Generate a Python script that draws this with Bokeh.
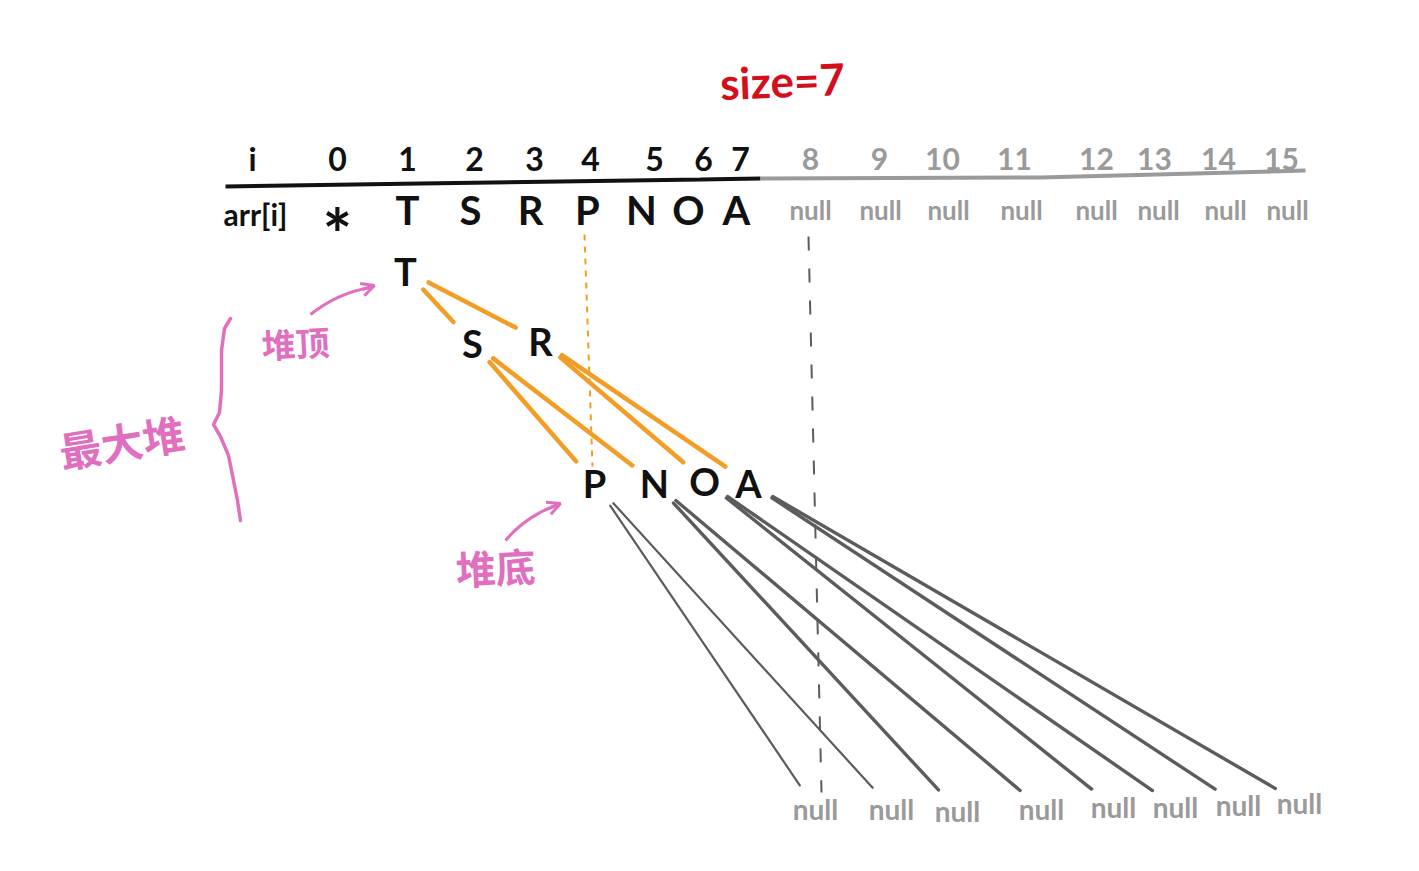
import numpy as np
from bokeh.plotting import figure
from bokeh.models import Range1d, Arrow, OpenHead
from bokeh.core.properties import value
from bokeh.embed import file_html
from bokeh.resources import INLINE

# ---------------- data ----------------
heap_size = 7
index_labels = [str(i) for i in range(16)]
arr_values = ["*", "T", "S", "R", "P", "N", "O", "A"] + ["null"] * 8
heap_nodes = ["T", "S", "R", "P", "N", "O", "A"]          # indices 1..7
leaf_labels = ["null"] * 8                                   # indices 8..15
size_label = f"size={heap_size}"
label_max_heap = "最大堆"
label_top = "堆顶"
label_bottom = "堆底"

# ---------------- layout (pixel positions) ----------------
idx_x = [337, 407, 474, 534, 590, 654, 703, 740, 810, 879, 942, 1014, 1096, 1154, 1218, 1281]
idx_y = 158
arr_x = [337, 407, 470, 530, 587, 641, 688, 736, 810, 880, 948, 1021, 1096, 1158, 1225, 1287]
arr_y = 209
node_x = [405, 472, 540, 594, 654, 704, 748]
node_y = [270, 342, 340, 482, 482, 480, 482]
leaf_x = [815, 891, 957, 1041, 1113, 1175, 1238, 1299]
leaf_y = [808, 808, 810, 808, 806, 806, 804, 802]

BLACK = "#111111"
GRAY_T = "#9a9a9a"
GRAY_L = "#5c5c5c"
ORANGE = "#f29d25"
PINK = "#e070bf"
RED = "#d40f1c"
FONT = value("Lato")
CJK = value("Noto Sans CJK SC")

p = figure(width=1403, height=855, output_backend="svg", toolbar_location=None,
           x_range=Range1d(0, 1403), y_range=Range1d(855, 0), min_border=0)
p.axis.visible = False
p.grid.visible = False
p.outline_line_color = None
p.background_fill_color = "white"
p.border_fill_color = "white"

# size=7
p.text(x=[782], y=[80], text=[size_label], text_color=RED, text_font=FONT, text_font_style="bold",
       text_font_size="44px", text_align="center", text_baseline="middle", angle=0.04)

# index row
n_used = heap_size + 1
p.text(x=[252], y=[idx_y], text=["i"], text_color=BLACK, text_font=FONT, text_font_style="bold",
       text_font_size="32px", text_align="center", text_baseline="middle")
p.text(x=idx_x[:n_used], y=[idx_y] * n_used, text=index_labels[:n_used], text_color=BLACK,
       text_font=FONT, text_font_style="bold", text_font_size="32px",
       text_align="center", text_baseline="middle")
p.text(x=idx_x[n_used:], y=[idx_y] * (16 - n_used), text=index_labels[n_used:], text_color=GRAY_T,
       text_font=FONT, text_font_style="bold", text_font_size="30px",
       text_align="center", text_baseline="middle")

# separator line
p.line(x=[225, 420, 700, 760], y=[186, 183, 179, 178], line_color=BLACK, line_width=4)
p.line(x=[760, 1040, 1305], y=[178, 177, 170], line_color=GRAY_T, line_width=4)

# array row
p.text(x=[255], y=[arr_y + 4], text=["arr[i]"], text_color=BLACK, text_font=FONT,
       text_font_style="bold", text_font_size="30px", text_align="center", text_baseline="middle")
p.text(x=arr_x[:1], y=[arr_y + 24], text=arr_values[:1], text_color=BLACK,
       text_font=FONT, text_font_style="bold", text_font_size="70px",
       text_align="center", text_baseline="middle")
p.text(x=arr_x[1:n_used], y=[arr_y] * (n_used - 1), text=arr_values[1:n_used], text_color=BLACK,
       text_font=FONT, text_font_style="bold", text_font_size="40px",
       text_align="center", text_baseline="middle")
p.text(x=arr_x[n_used:], y=[arr_y] * (16 - n_used), text=arr_values[n_used:], text_color=GRAY_T,
       text_font=FONT, text_font_style="bold", text_font_size="26px",
       text_align="center", text_baseline="middle")

# dashed guides
p.line(x=[arr_x[4] - 3, node_x[3] - 2], y=[234, 466], line_color=ORANGE, line_width=2, line_dash="6 6")
p.line(x=[arr_x[8] - 2, leaf_x[0] + 6], y=[236, 792], line_color=GRAY_L, line_width=2, line_dash="14 18")

# tree positions by heap index
pos = {}
for k in range(7):
    pos[k + 1] = (node_x[k], node_y[k])
for k in range(8):
    pos[k + 8] = (leaf_x[k], leaf_y[k])

def edge(a, b, r1, r2):
    (x0, y0), (x1, y1) = pos[a], pos[b]
    d = np.array([x1 - x0, y1 - y0], dtype=float)
    u = d / np.hypot(*d)
    return [x0 + u[0] * r1, x1 - u[0] * r2], [y0 + u[1] * r1, y1 - u[1] * r2]

ox, oy, gx, gy, gw = [], [], [], [], []
for i in range(1, heap_size + 1):
    for c in (2 * i, 2 * i + 1):
        if i <= 3:
            xs, ys = edge(i, c, 26, 28)
            ox.append(xs); oy.append(ys)
        else:
            xs, ys = edge(i, c, 28, 28)
            gx.append(xs); gy.append(ys)
            gw.append(2.2 if i == 4 else 3.4)
p.multi_line(xs=ox, ys=oy, line_color=ORANGE, line_width=4.5, line_cap="round")
p.multi_line(xs=gx, ys=gy, line_color=GRAY_L, line_width=gw, line_cap="round")

# tree nodes
p.text(x=node_x, y=node_y, text=heap_nodes, text_color=BLACK, text_font=FONT,
       text_font_style="bold", text_font_size="38px", text_align="center", text_baseline="middle")
p.text(x=leaf_x, y=leaf_y, text=leaf_labels, text_color=GRAY_T, text_font=FONT,
       text_font_style="bold", text_font_size="28px", text_align="center", text_baseline="middle")

# pink annotations
p.line(x=[230, 224, 221, 221, 219, 213, 220, 228, 233, 237, 240],
       y=[318, 328, 350, 390, 412, 424, 436, 455, 480, 500, 520],
       line_color=PINK, line_width=3.5, line_cap="round", line_join="round")
p.text(x=[121], y=[440], text=[label_max_heap], text_color=PINK, text_font=CJK, text_font_style="bold",
       text_font_size="42px", text_align="center", text_baseline="middle", angle=0.16)
p.text(x=[295], y=[342], text=[label_top], text_color=PINK, text_font=CJK, text_font_style="bold",
       text_font_size="34px", text_align="center", text_baseline="middle", angle=0.05)
p.text(x=[495], y=[566], text=[label_bottom], text_color=PINK, text_font=CJK, text_font_style="bold",
       text_font_size="40px", text_align="center", text_baseline="middle", angle=0.05)

p.bezier(x0=[310], y0=[314], x1=[370], y1=[287], cx0=[330], cy0=[298], cx1=[352], cy1=[290],
         line_color=PINK, line_width=3)
p.add_layout(Arrow(end=OpenHead(size=13, line_color=PINK, line_width=3), x_start=362, y_start=289,
                   x_end=374, y_end=285, line_color=PINK, line_width=3))
p.bezier(x0=[505], y0=[540], x1=[556], y1=[505], cx0=[520], cy0=[522], cx1=[540], cy1=[510],
         line_color=PINK, line_width=3)
p.add_layout(Arrow(end=OpenHead(size=13, line_color=PINK, line_width=3), x_start=550, y_start=507,
                   x_end=560, y_end=503, line_color=PINK, line_width=3))

open("out.html", "w").write(file_html(p, INLINE))
